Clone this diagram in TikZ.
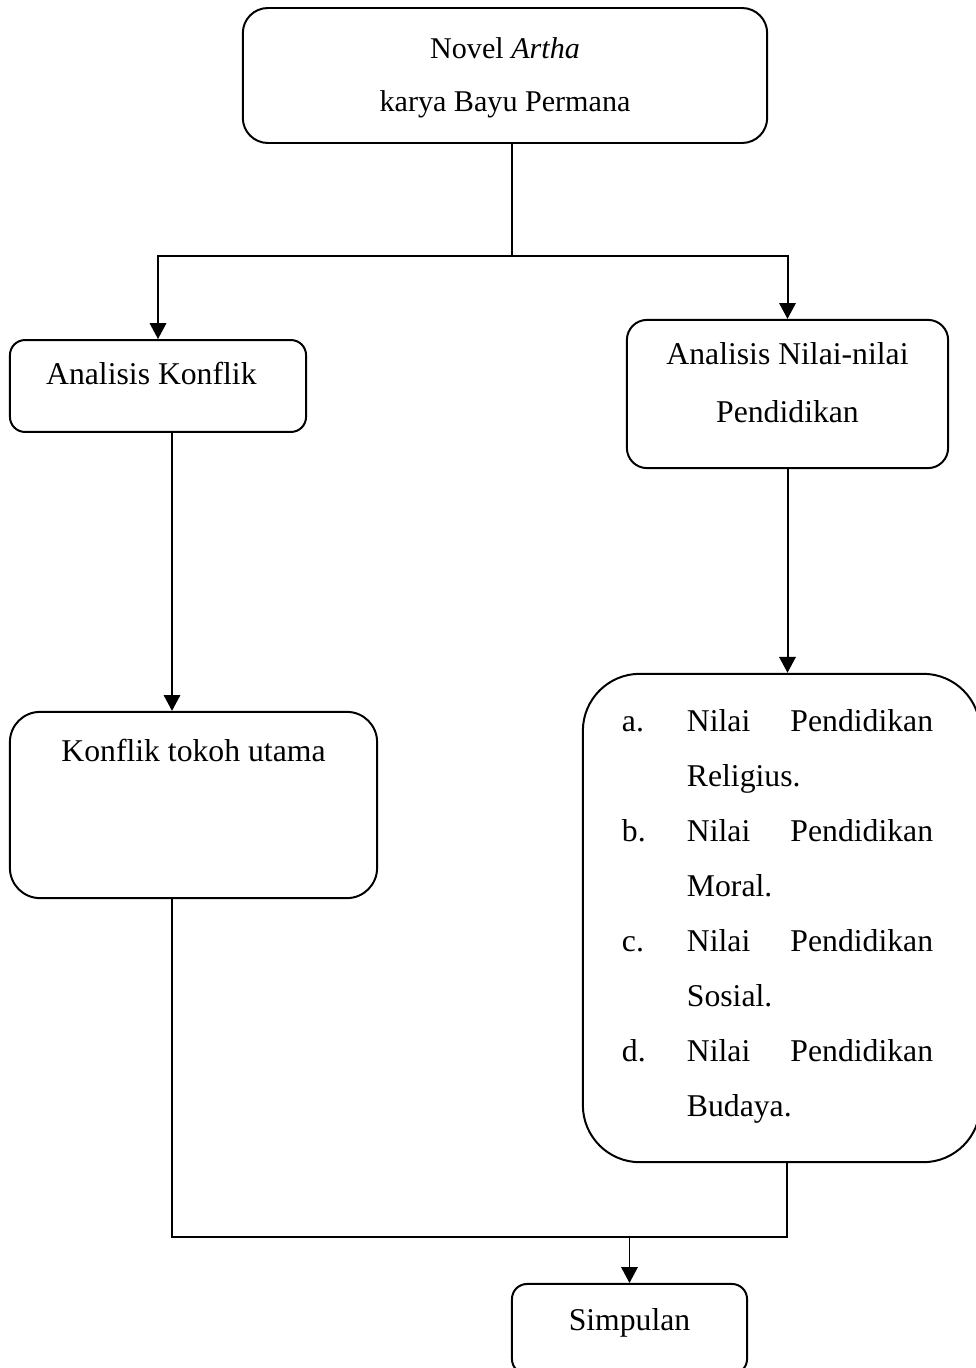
\documentclass[tikz,border=0pt]{standalone}
\usepackage{fontspec}
\setmainfont{Liberation Serif}
\usepackage{tikz}
\usetikzlibrary{calc, positioning, arrows.meta}
\tikzset{
  box/.style  = {draw=black, line width=0.75pt, fill=white, inner sep=0pt,
                 font=\fontsize{12}{21.6}\selectfont},
  fl/.style   = {-{Triangle[length=6pt, width=6.2pt]}, draw=black, line width=0.75pt},
  ln/.style   = {draw=black, line width=0.75pt}
}

\begin{document}
\begin{tikzpicture}[x=0.01331cm, y=-0.01331cm]
  \useasboundingbox (0,0) rectangle (976,1368);
  % boxes
  \node[box, rounded corners=9.5pt, minimum width=198.5pt, minimum height=51.1pt,
        text height=19pt, text depth=32.1pt, font=\fontsize{11.4}{20}\selectfont]
        (novel) at (505,75.5)
        {\begin{tabular}[t]{@{}c@{}}Novel \textit{Artha}\\ karya Bayu Permana\end{tabular}};
  \node[box, rounded corners=5.7pt, minimum width=112.1pt, minimum height=34.8pt,
        text height=17pt, text depth=17.8pt] (konflik) at (158,386) {Analisis Konflik\hspace*{5pt}};
  \node[box, rounded corners=7.6pt, minimum width=121.6pt, minimum height=56.1pt,
        text height=17pt, text depth=39pt] (nilai) at (787.5,394)
        {\begin{tabular}[t]{@{}c@{}}Analisis Nilai-nilai\\ Pendidikan\end{tabular}};
  \node[box, rounded corners=11.4pt, minimum width=139pt, minimum height=70.5pt,
        text height=18.9pt, text depth=51.5pt] (tokoh) at (193.5,805) {Konflik tokoh utama};
  \node[box, rounded corners=21.6pt, minimum width=150.4pt, minimum height=184.9pt,
        text height=22pt, text depth=162.9pt, font=\fontsize{12}{20.8}\selectfont]
        (jenis) at (781.5,918)
        {\begin{tabular}[t]{@{}p{24.6pt}@{}l@{}}
          a. & \makebox[93.2pt][s]{Nilai Pendidikan}\\
             & Religius.\\
          b. & \makebox[93.2pt][s]{Nilai Pendidikan}\\
             & Moral.\\
          c. & \makebox[93.2pt][s]{Nilai Pendidikan}\\
             & Sosial.\\
          d. & \makebox[93.2pt][s]{Nilai Pendidikan}\\
             & Budaya.
        \end{tabular}\hspace*{3pt}};
  \node[box, rounded corners=5.7pt, minimum width=89pt, minimum height=34.1pt,
        text height=17.6pt, text depth=16.5pt] (simpulan) at (629.5,1329) {Simpulan};

  % connectors
  \coordinate (split) at (512,256);
  \coordinate (joinL) at (172,1237);
  \coordinate (joinR) at (787,1237);
  \draw[ln] (split |- novel.south) -- (split);
  \draw[fl] (split) -| (konflik.north);
  \draw[fl] (split) -| (nilai.north);
  \draw[fl] (konflik.south -| joinL) -- (tokoh.north -| joinL);
  \draw[fl] (nilai.south) -- (nilai.south |- jenis.north);
  \draw[ln] (tokoh.south -| joinL) -- (joinL) -- (joinR) -- (jenis.south -| joinR);
  \draw[fl] (simpulan.north |- joinL) -- (simpulan.north);
\end{tikzpicture}
\end{document}
